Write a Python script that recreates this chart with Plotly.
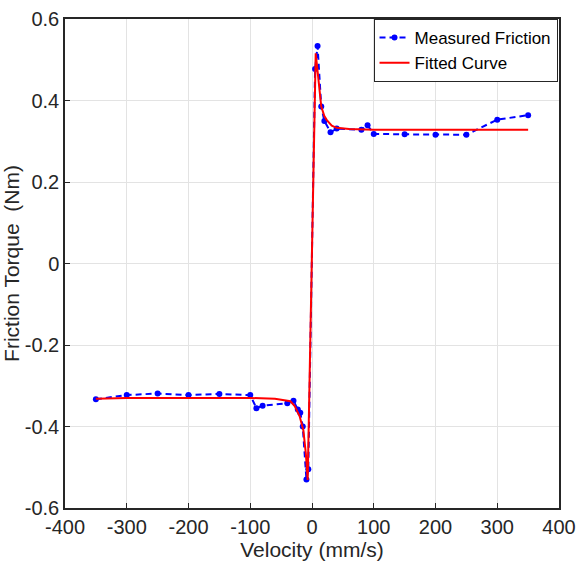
import plotly.graph_objects as go

# Measured friction data (velocity mm/s, torque Nm)
meas_v = [-350, -300, -250, -200, -150, -100, -90, -80, -40, -30, -23, -19, -15, -9, -6,
          5, 9, 15, 20, 30, 40, 80, 90, 100, 150, 200, 250, 300, 350]
meas_t = [-0.333, -0.323, -0.319, -0.323, -0.320, -0.323, -0.355, -0.349, -0.343, -0.337,
          -0.358, -0.366, -0.400, -0.530, -0.505,
          0.477, 0.534, 0.385, 0.350, 0.322, 0.331, 0.328, 0.339, 0.318, 0.317, 0.316,
          0.316, 0.353, 0.364]

# Fitted curve samples
fit_v = [-350, -300, -200, -100, -60, -40, -35, -28, -20, -14, -10, -7,
         6, 10, 15, 20, 24, 32, 40, 60, 100, 200, 350]
fit_t = [-0.332, -0.330, -0.330, -0.330, -0.332, -0.336, -0.338, -0.350, -0.375, -0.409,
         -0.466, -0.531,
         0.516, 0.458, 0.385, 0.362, 0.352, 0.338, 0.333, 0.330, 0.328, 0.328, 0.328]

x_ticks = [-400, -300, -200, -100, 0, 100, 200, 300, 400]
x_labels = ["-400", "-300", "-200", "-100", "0", "100", "200", "300", "400"]
y_ticks = [-0.6, -0.4, -0.2, 0, 0.2, 0.4, 0.6]
y_labels = ["-0.6", "-0.4", "-0.2", "0", "0.2", "0.4", "0.6"]

txt = "#262626"
font = "Liberation Sans, Arial, Helvetica, sans-serif"

fig = go.Figure()
fig.add_trace(go.Scatter(
    x=meas_v, y=meas_t, mode="lines+markers", name="Measured Friction",
    line=dict(color="#0000FF", width=2, dash="6px,4px"),
    marker=dict(color="#0000FF", size=6),
))
fig.add_trace(go.Scatter(
    x=fit_v, y=fit_t, mode="lines", name="Fitted Curve",
    line=dict(color="#FF0000", width=2),
))

axis_common = dict(
    showline=True, linecolor=txt, linewidth=1.5, mirror=True,
    showgrid=True, gridcolor="#e3e3e3", gridwidth=1,
    ticks="inside", ticklen=5, tickcolor=txt, tickwidth=1,
    zeroline=False, automargin=False,
    tickfont=dict(family=font, size=20, color=txt),
)

fig.update_layout(
    width=579, height=561,
    margin=dict(l=65, r=20, t=19, b=53),
    paper_bgcolor="white", plot_bgcolor="white",
    font=dict(family=font, color=txt),
    showlegend=True,
    legend=dict(
        x=0.997, y=1, xanchor="right", yanchor="top",
        bgcolor="white", bordercolor=txt, borderwidth=1,
        font=dict(family=font, size=17, color="black"),
        tracegroupgap=0, itemwidth=30,
    ),
    xaxis=dict(
        range=[-400, 400], tickvals=x_ticks, ticktext=x_labels,
        title=dict(text="Velocity (mm/s)", font=dict(family=font, size=21, color=txt), standoff=2),
        **axis_common,
    ),
    yaxis=dict(
        range=[-0.6, 0.6], tickvals=y_ticks, ticktext=y_labels,
        title=dict(text="Friction Torque\u00a0 (Nm)", font=dict(family=font, size=21, color=txt), standoff=0),
        **axis_common,
    ),
)

fig.write_html("out.html")
